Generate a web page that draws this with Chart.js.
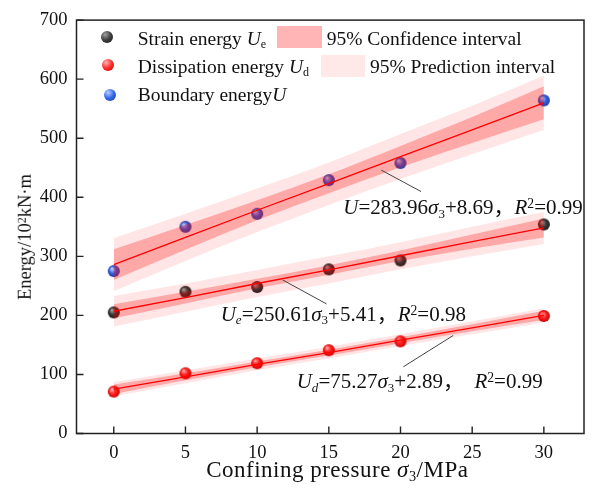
<!DOCTYPE html>
<html><head><meta charset="utf-8">
<script src="https://cdn.jsdelivr.net/npm/chart.js@4.4.1/dist/chart.umd.min.js"></script>
<style>
html,body{margin:0;padding:0;background:#fff;}
#wrap{position:relative;width:600px;height:490px;overflow:hidden;background:#fff;}
canvas{position:absolute;left:0;top:0;}
.t{position:absolute;font-family:"Liberation Serif","Times New Roman",serif;color:#111;white-space:nowrap;line-height:1;}
.t i{font-style:italic;}
.sb{position:relative;font-size:0.62em;top:0.28em;}
.sp{position:relative;font-size:0.65em;top:-0.42em;}
.cj{font-family:"Noto Sans CJK SC",sans-serif;}
.ball{position:absolute;width:12px;height:12px;border-radius:50%;margin:-6px 0 0 -6px;}
.sw{position:absolute;}
</style></head>
<body><div id="wrap"><canvas id="c" width="600" height="490"></canvas>
<div class="ball" style="left:106.5px;top:37px;background:radial-gradient(circle at 35% 30%,#a0a0a0 0%,#3c3c3c 50%,#1a1a1a 100%)"></div>
<div class="ball" style="left:108px;top:64.5px;background:radial-gradient(circle at 35% 30%,#ffb0b0 0%,#ff2a2a 50%,#c80000 100%)"></div>
<div class="ball" style="left:109.5px;top:94.5px;background:radial-gradient(circle at 35% 30%,#b8ccff 0%,#3566e8 50%,#1a3aa8 100%)"></div>
<div class="t" style="left:137.7px;top:28.7px;font-size:19.5px">Strain energy <i>U</i><span class="sb">e</span></div>
<div class="t" style="left:137.7px;top:57px;font-size:19.5px">Dissipation energy <i>U</i><span class="sb">d</span></div>
<div class="t" style="left:137.7px;top:85.4px;font-size:19.5px">Boundary energy<i>U</i></div>
<div class="sw" style="left:277px;top:26px;width:45px;height:22px;background:#FFB5B5"></div>
<div class="sw" style="left:321px;top:55px;width:44px;height:22px;background:#FFE8E8"></div>
<div class="t" style="left:326.7px;top:28.7px;font-size:19.5px">95% Confidence interval</div>
<div class="t" style="left:370px;top:57px;font-size:19.5px">95% Prediction interval</div>
<div class="t" style="left:343.3px;top:195.1px;font-size:21px"><i>U</i>=283.96<i>σ</i><span class="sb">3</span>+8.69<span class="cj">，</span><i>R</i><span class="sp">2</span>=0.99</div>
<div class="t" style="left:220.7px;top:301.7px;font-size:21px"><i>U</i><span class="sb"><i>e</i></span>=250.61<i>σ</i><span class="sb">3</span>+5.41<span class="cj">，</span><i>R</i><span class="sp">2</span>=0.98</div>
<div class="t" style="left:296.7px;top:369.1px;font-size:21px"><i>U</i><span class="sb"><i>d</i></span>=75.27<i>σ</i><span class="sb">3</span>+2.89<span class="cj">，</span>&nbsp;&nbsp;<i>R</i><span class="sp">2</span>=0.99</div>
<div class="t" style="left:337.3px;top:458px;font-size:23px;letter-spacing:0.5px;transform:translateX(-50%)">Confining pressure <i>σ</i><span class="sb">3</span>/MPa</div>
<div class="t" style="left:25px;top:236.5px;font-size:18.5px;transform:translate(-50%,-50%) rotate(-90deg)">Energy/10<span class="sp">2</span>kN·m</div>
</div>
<script>
// ---- data ----
const xData = [0, 5, 10, 15, 20, 30];
const strainU = [205, 240, 248, 278, 293, 354];
const dissU = [71, 102, 119, 141, 156, 199];
const boundU = [275, 350, 372, 429, 458, 564];

const xFit = [0, 5, 10, 15, 20, 25, 30];
const fitU = [286, 332, 378, 423, 469, 514, 560];
const confUHi = [312, 353, 395, 439, 487, 536, 588];
const confULo = [260, 311, 361, 407, 451, 492, 532];
const predUHi = [331, 372, 415, 459, 507, 555, 606];
const predULo = [241, 292, 341, 387, 431, 473, 514];

const fitUe = [207, 230, 254, 277, 301, 325, 348];
const confUeHi = [219, 240, 262, 285, 310, 337, 364];
const confUeLo = [195, 220, 246, 269, 292, 313, 332];
const predUeHi = [233, 254, 277, 300, 324, 350, 375];
const predUeLo = [181, 206, 231, 254, 278, 300, 321];

const fitUd = [75, 96, 117, 137, 158, 179, 200];
const confUdHi = [83, 102, 122, 142, 163, 185, 208];
const confUdLo = [67, 90, 112, 132, 153, 173, 192];
const predUdHi = [87, 107, 127, 147, 168, 190, 212];
const predUdLo = [63, 85, 107, 127, 148, 168, 188];

const xTicks = [0, 5, 10, 15, 20, 25, 30];
const yTicks = [0, 100, 200, 300, 400, 500, 600, 700];

// leader lines for the equations (data units)
const leaders = [
  [[18.66, 446], [21.44, 409.6]],
  [[11.78, 260], [14.84, 219.4]],
  [[23.68, 166], [20.2, 113]]
];

// ---- helpers ----
function pts(xs, ys) { return xs.map((x, i) => ({ x: x, y: ys[i] })); }
function ball(c1, c2, c3, r) {
  const s = Math.ceil(r * 2) + 2;
  const cv = document.createElement('canvas'); cv.width = cv.height = s;
  const g = cv.getContext('2d'); const cx = s / 2, cy = s / 2;
  const gr = g.createRadialGradient(cx - r * 0.35, cy - r * 0.4, r * 0.1, cx, cy, r);
  gr.addColorStop(0, c1); gr.addColorStop(0.5, c2); gr.addColorStop(1, c3);
  g.fillStyle = gr; g.beginPath(); g.arc(cx, cy, r, 0, Math.PI * 2); g.fill();
  return cv;
}
const ballK = ball('#a0a0a0', '#3c3c3c', '#1a1a1a', 6);
const ballR = ball('#ffb0b0', '#ff2a2a', '#c80000', 6);
const ballB = ball('#b8ccff', '#3566e8', '#1a3aa8', 6);

const PRED = 'rgba(255,0,0,0.10)';
const CONF = 'rgba(255,0,0,0.27)';
const datasets = [];
function band(hi, lo, color, order) {
  const i = datasets.length;
  datasets.push({ data: pts(xFit, hi), borderWidth: 0, borderColor: 'rgba(0,0,0,0)', pointRadius: 0,
    fill: i + 1, backgroundColor: color, order: order, cubicInterpolationMode: 'monotone' });
  datasets.push({ data: pts(xFit, lo), borderWidth: 0, borderColor: 'rgba(0,0,0,0)', pointRadius: 0,
    fill: false, order: order, cubicInterpolationMode: 'monotone' });
}
function scatter(ys, img) {
  datasets.push({ data: pts(xData, ys), showLine: false, pointStyle: img, pointRadius: 6, order: 10 });
}
function fit(ys) {
  datasets.push({ data: pts(xFit, ys), borderColor: '#ff0000', borderWidth: 1.3, pointRadius: 0, fill: false, order: 1 });
}

scatter(strainU, ballK);
scatter(dissU, ballR);
scatter(boundU, ballB);
band(predUHi, predULo, PRED, 6); band(predUeHi, predUeLo, PRED, 6); band(predUdHi, predUdLo, PRED, 6);
band(confUHi, confULo, CONF, 5); band(confUeHi, confUeLo, CONF, 5); band(confUdHi, confUdLo, CONF, 5);
fit(fitU); fit(fitUe); fit(fitUd);

const decor = {
  id: 'decor',
  afterDraw(chart) {
    const { ctx, chartArea: a, scales: { x, y } } = chart;
    ctx.save();
    ctx.strokeStyle = '#222'; ctx.lineWidth = 1.5;
    ctx.strokeRect(a.left, a.top, a.right - a.left, a.bottom - a.top);
    ctx.lineWidth = 1.4;
    ctx.beginPath();
    x.ticks.forEach(t => { const px = x.getPixelForValue(t.value); ctx.moveTo(px, a.bottom); ctx.lineTo(px, a.bottom - 7); });
    y.ticks.forEach(t => { const py = y.getPixelForValue(t.value); ctx.moveTo(a.left, py); ctx.lineTo(a.left + 7, py); });
    ctx.stroke();
    ctx.strokeStyle = '#444'; ctx.lineWidth = 1;
    ctx.beginPath();
    leaders.forEach(l => {
      ctx.moveTo(x.getPixelForValue(l[0][0]), y.getPixelForValue(l[0][1]));
      ctx.lineTo(x.getPixelForValue(l[1][0]), y.getPixelForValue(l[1][1]));
    });
    ctx.stroke();
    ctx.restore();
  }
};

const tickFont = { family: '"Liberation Serif","Times New Roman",serif', size: 18.5 };
new Chart(document.getElementById('c'), {
  type: 'line',
  data: { datasets: datasets },
  options: {
    responsive: false, animation: false,
    layout: { padding: { top: 17, right: 16, left: 0, bottom: 0 } },
    plugins: { legend: { display: false }, tooltip: { enabled: false } },
    scales: {
      x: {
        type: 'linear', min: -2.6, max: 32.8,
        afterBuildTicks: s => { s.ticks = xTicks.map(v => ({ value: v })); },
        afterFit: s => { s.height = 56.5; },
        grid: { display: false, drawTicks: false }, border: { display: false },
        ticks: { font: tickFont, color: '#111', padding: 9, maxRotation: 0 }
      },
      y: {
        type: 'linear', min: 0, max: 700,
        afterBuildTicks: s => { s.ticks = yTicks.map(v => ({ value: v })); },
        afterFit: s => { s.width = 76.5; },
        grid: { display: false, drawTicks: false }, border: { display: false },
        ticks: { font: tickFont, color: '#111', padding: 9 }
      }
    }
  },
  plugins: [decor]
});
</script>
</body></html>
